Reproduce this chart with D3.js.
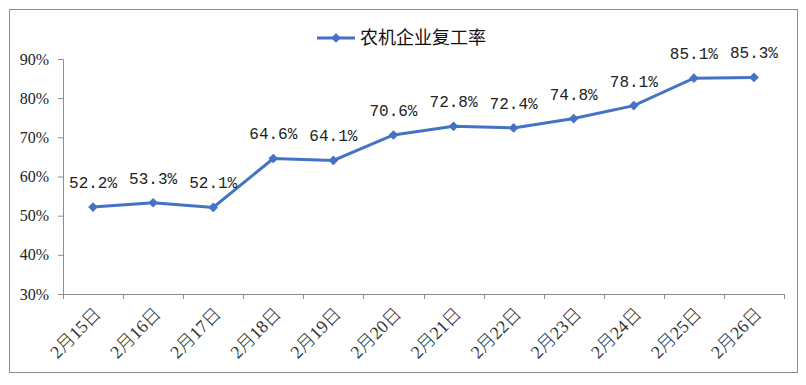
<!DOCTYPE html>
<head>
  <meta charset="utf-8">
  <script src="https://d3js.org/d3.v7.min.js"></script>
  <style>
  body,html {background:white; margin:0;}
  </style>
</head>
<body>
<svg></svg>
<script>

  const dates = ["2月15日","2月16日","2月17日","2月18日","2月19日","2月20日","2月21日","2月22日","2月23日","2月24日","2月25日","2月26日"];
  const rates = [52.2, 53.3, 52.1, 64.6, 64.1, 70.6, 72.8, 72.4, 74.8, 78.1, 85.1, 85.3];
  const yTicks = [30, 40, 50, 60, 70, 80, 90];
  const seriesName = "农机企业复工率";

  const width = 806, height = 385;
  const blue = "#4472C4";
  const padL = 63, padR = 784, padT = 59, padB = 294;

  const svg = d3.select("svg").attr("width", width).attr("height", height);

  // outer frame
  svg.append("rect")
    .attr("x", 9.5).attr("y", 9.5)
    .attr("width", 788).attr("height", 363)
    .attr("fill", "white")
    .attr("stroke", "#8c8c8c");

  const x = d3.scaleBand().domain(dates).range([padL, padR]);
  const y = d3.scaleLinear().domain([30, 90]).range([padB, padT]);

  // y axis
  const yAxis = svg.append("g")
    .attr("transform", `translate(${padL},0)`)
    .attr("font-family", "'Liberation Serif', serif")
    .attr("font-size", 16)
    .call(d3.axisLeft(y).tickValues(yTicks).tickSize(5).tickPadding(9).tickFormat(d => d + "%"));
  yAxis.selectAll("path, line").attr("stroke", "#8c8c8c");
  yAxis.selectAll("text")
    .style("font-family", "'Liberation Serif', serif")
    .style("font-size", "16px")
    .attr("fill", "#222");

  // x axis: ticks at band boundaries
  const xg = svg.append("g");
  xg.append("line")
    .attr("x1", padL).attr("x2", padR)
    .attr("y1", padB + 0.5).attr("y2", padB + 0.5)
    .attr("stroke", "#8c8c8c");
  const bounds = dates.map(d => x(d)).concat([padR]);
  xg.selectAll(".tk").data(bounds).enter().append("line")
    .attr("x1", d => Math.round(d) + 0.5).attr("x2", d => Math.round(d) + 0.5)
    .attr("y1", padB).attr("y2", padB + 5)
    .attr("stroke", "#8c8c8c");
  xg.selectAll(".lbl").data(dates).enter().append("text")
    .attr("transform", d => `translate(${x(d) + x.bandwidth() / 2},${padB + 12}) rotate(-45)`)
    .attr("text-anchor", "end")
    .attr("dy", "0.7em")
    .style("font-family", "'Liberation Serif', 'Noto Sans CJK SC', serif")
    .style("font-size", "18px")
    .style("font-weight", 300)
    .attr("fill", "#333")
    .text(d => d);

  const cx = d => x(d) + x.bandwidth() / 2;

  // line
  const line = d3.line().x((d, i) => cx(dates[i])).y(d => y(d));
  svg.append("path")
    .datum(rates)
    .attr("d", line)
    .attr("fill", "none")
    .attr("stroke", blue)
    .attr("stroke-width", 3);

  const diamond = d3.symbol().type(d3.symbolDiamond2).size(60);
  svg.selectAll(".pt").data(rates).enter().append("path")
    .attr("d", diamond)
    .attr("transform", (d, i) => `translate(${cx(dates[i])},${y(d)})`)
    .attr("fill", blue);

  // data labels
  svg.selectAll(".val").data(rates).enter().append("text")
    .attr("x", (d, i) => cx(dates[i]))
    .attr("y", d => y(d) - 19)
    .attr("text-anchor", "middle")
    .style("font-family", "'Liberation Mono', monospace")
    .style("font-size", "16px")
    .attr("fill", "#222")
    .text(d => d.toFixed(1) + "%");

  // legend
  const lg = svg.append("g").attr("transform", "translate(317,38)");
  lg.append("line").attr("x1", 0).attr("x2", 38).attr("stroke", blue).attr("stroke-width", 3);
  lg.append("path").attr("d", diamond).attr("transform", "translate(19,0)").attr("fill", blue);
  lg.append("text")
    .attr("x", 43).attr("dy", "0.35em")
    .style("font-family", "'Noto Sans CJK SC', sans-serif")
    .style("font-size", "18px")
    .attr("fill", "#111")
    .text(seriesName);

</script>
</body>
